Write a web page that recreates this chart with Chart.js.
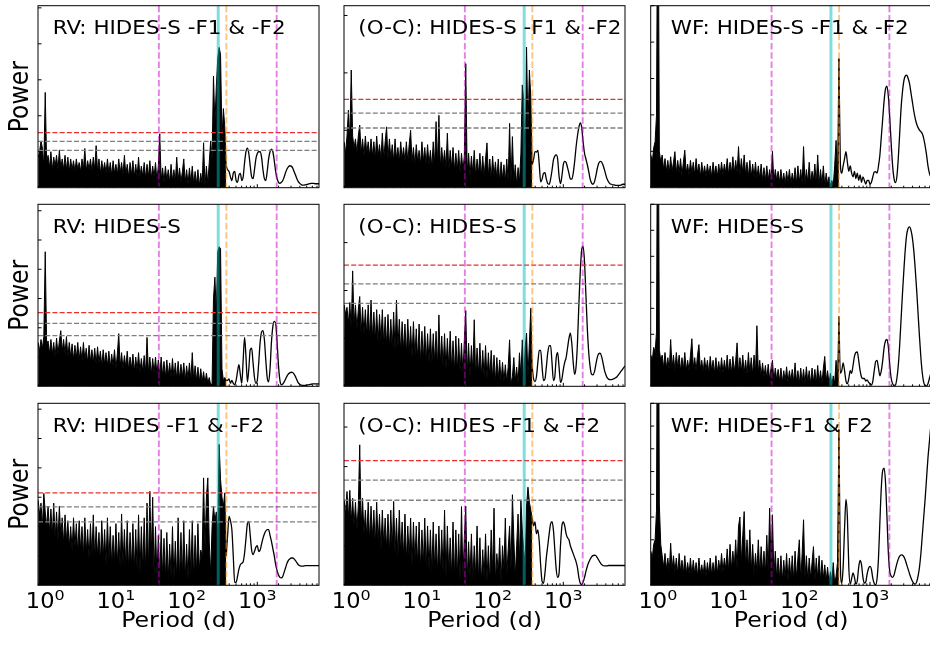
<!DOCTYPE html>
<html lang="en">
<head>
<meta charset="UTF-8">
<title>GLS periodograms: RV, (O-C) and window function</title>
<style>
  body { margin: 0; background: #fff; }
  #wrap { position: relative; width: 930px; height: 646px; overflow: hidden; background: #fff; }
  #wrap canvas { position: absolute; left: 0; top: 0; }
</style>
</head>
<body>
<div id="wrap"></div>
<script src="https://cdn.jsdelivr.net/npm/chart.js"></script>
<script>
// log10(period / d) sampling of the periodograms
const denseLogP = [
  -0.10,-0.08,-0.06,-0.04,-0.02,0.00,0.02,0.04,0.06,0.08,
  0.10,0.12,0.14,0.16,0.18,0.20,0.22,0.24,0.26,0.28,
  0.30,0.32,0.34,0.36,0.38,0.40,0.42,0.44,0.46,0.48,
  0.50,0.52,0.54,0.56,0.58,0.60,0.62,0.64,0.66,0.68,
  0.70,0.72,0.74,0.76,0.78,0.80,0.82,0.84,0.86,0.88,
  0.90,0.92,0.94,0.96,0.98,1.00,1.02,1.04,1.06,1.08,
  1.10,1.12,1.14,1.16,1.18,1.20,1.22,1.24,1.26,1.28,
  1.30,1.32,1.34,1.36,1.38,1.40,1.42,1.44,1.46,1.48,
  1.50,1.52,1.54,1.56,1.58,1.60,1.62,1.64,1.66,1.68,
  1.70,1.72,1.74,1.76,1.78,1.80,1.82,1.84,1.86,1.88,
  1.90,1.92,1.94,1.96,1.98,2.00,2.02,2.04,2.06,2.08,
  2.10,2.12,2.14,2.16,2.18,2.20,2.22,2.24,2.26,2.28,
  2.30,2.32,2.34,2.36,2.38,2.40,2.42,2.44,2.46,2.48,
  2.50,2.52,2.54,2.56
];
const smoothLogP = [
  2.56,2.58,2.60,2.62,2.64,2.66,2.68,2.70,2.72,2.74,
  2.76,2.78,2.80,2.82,2.84,2.86,2.88,2.90,2.92,2.94,
  2.96,2.98,3.00,3.02,3.04,3.06,3.08,3.10,3.12,3.14,
  3.16,3.18,3.20,3.22,3.24,3.26,3.28,3.30,3.32,3.34,
  3.36,3.38,3.40,3.42,3.44,3.46,3.48,3.50,3.52,3.54,
  3.56,3.58,3.60,3.62,3.64,3.66,3.68,3.70,3.72,3.74,
  3.76,3.78,3.80,3.82,3.84,3.86,3.88
];

// RV: HIDES-S -F1 & -F2
const rvADense = [
  0.085,0.10,0.13,0.11,0.06,0.265,0.07,0.09,0.055,0.10,
  0.05,0.085,0.06,0.09,0.05,0.105,0.055,0.08,0.05,0.09,
  0.05,0.085,0.045,0.08,0.05,0.075,0.045,0.08,0.05,0.07,
  0.045,0.08,0.05,0.109,0.045,0.075,0.05,0.08,0.045,0.085,
  0.05,0.117,0.045,0.08,0.04,0.075,0.045,0.07,0.04,0.08,
  0.04,0.07,0.035,0.075,0.04,0.065,0.035,0.08,0.04,0.07,
  0.035,0.09,0.035,0.065,0.03,0.07,0.035,0.075,0.03,0.065,
  0.03,0.085,0.03,0.06,0.03,0.07,0.025,0.065,0.03,0.075,
  0.025,0.06,0.03,0.07,0.02,0.06,0.15,0.02,0.055,0.015,
  0.06,0.02,0.05,0.015,0.065,0.02,0.05,0.015,0.085,0.02,
  0.055,0.015,0.045,0.08,0.015,0.05,0.01,0.055,0.015,0.06,
  0.01,0.045,0.01,0.05,0.005,0.04,0.01,0.125,0.005,0.06,
  0.01,0.07,0.13,0.08,0.31,0.18,0.28,0.36,0.39,0.37,
  0.14,0.22,0.17,0.06
];
const rvASmooth = [
  0.06,0.05,0.045,0.03,0.02,0.04,0.045,0.02,0.015,0.035,
  0.04,0.02,0.03,0.07,0.10,0.11,0.095,0.06,0.03,0.025,
  0.05,0.08,0.095,0.10,0.10,0.085,0.05,0.025,0.02,0.045,
  0.08,0.10,0.107,0.10,0.075,0.045,0.025,0.015,0.012,0.015,
  0.02,0.03,0.042,0.052,0.058,0.061,0.06,0.055,0.045,0.035,
  0.025,0.017,0.012,0.009,0.007,0.007,0.008,0.009,0.01,0.011,
  0.012,0.012,0.012,0.011,0.011,0.011,0.011
];

// (O-C): HIDES-S -F1 & -F2
const ocADense = [
  0.08,0.06,0.09,0.135,0.08,0.205,0.09,0.07,0.085,0.06,
  0.09,0.109,0.06,0.085,0.055,0.09,0.06,0.08,0.055,0.085,
  0.055,0.08,0.05,0.09,0.055,0.075,0.05,0.095,0.05,0.08,
  0.106,0.05,0.085,0.05,0.075,0.045,0.085,0.05,0.07,0.045,
  0.08,0.05,0.07,0.045,0.08,0.045,0.075,0.10,0.045,0.07,
  0.04,0.075,0.045,0.065,0.04,0.08,0.045,0.07,0.04,0.075,
  0.04,0.065,0.035,0.08,0.04,0.115,0.04,0.126,0.035,0.07,
  0.04,0.065,0.035,0.095,0.03,0.065,0.035,0.07,0.03,0.06,
  0.03,0.065,0.025,0.06,0.03,0.055,0.216,0.025,0.06,0.02,
  0.055,0.025,0.065,0.02,0.05,0.025,0.06,0.02,0.055,0.02,
  0.05,0.078,0.02,0.05,0.015,0.055,0.02,0.045,0.015,0.05,
  0.01,0.045,0.015,0.04,0.01,0.05,0.01,0.112,0.01,0.089,
  0.01,0.04,0.005,0.035,0.01,0.06,0.179,0.153,0.03,0.245,
  0.10,0.205,0.158,0.04
];
const ocASmooth = [
  0.04,0.05,0.063,0.062,0.065,0.04,0.01,0.015,0.025,0.026,
  0.015,0.007,0.006,0.015,0.03,0.048,0.055,0.057,0.05,0.02,
  0.007,0.02,0.04,0.046,0.044,0.035,0.025,0.015,0.015,0.025,
  0.045,0.07,0.09,0.105,0.113,0.105,0.08,0.06,0.05,0.04,
  0.028,0.015,0.008,0.006,0.01,0.02,0.033,0.042,0.046,0.045,
  0.04,0.032,0.023,0.015,0.01,0.007,0.006,0.005,0.005,0.004,
  0.004,0.004,0.004,0.005,0.006,0.006,0.006
];

// WF: HIDES-S -F1 & -F2
const wfADense = [
  0.09,0.07,0.11,0.126,0.20,1.0,0.10,0.07,0.09,0.05,
  0.08,0.045,0.075,0.04,0.085,0.045,0.07,0.099,0.04,0.075,
  0.04,0.08,0.035,0.07,0.103,0.04,0.065,0.035,0.075,0.04,
  0.07,0.035,0.08,0.04,0.065,0.03,0.07,0.035,0.06,0.03,
  0.065,0.035,0.06,0.03,0.07,0.035,0.06,0.03,0.065,0.035,
  0.07,0.035,0.065,0.04,0.08,0.035,0.07,0.04,0.085,0.04,
  0.075,0.04,0.113,0.035,0.08,0.04,0.09,0.035,0.07,0.03,
  0.075,0.03,0.065,0.03,0.07,0.025,0.06,0.025,0.065,0.02,
  0.055,0.02,0.06,0.02,0.05,0.02,0.10,0.015,0.05,0.02,
  0.045,0.015,0.05,0.015,0.04,0.01,0.045,0.015,0.05,0.01,
  0.04,0.015,0.055,0.01,0.06,0.015,0.05,0.01,0.113,0.01,
  0.05,0.015,0.07,0.01,0.045,0.02,0.065,0.01,0.09,0.01,
  0.05,0.01,0.06,0.005,0.04,0.01,0.03,0.005,0.02,0.005,
  0.06,0.13,0.02,0.355
];
const wfASmooth = [
  0.355,0.07,0.04,0.06,0.08,0.099,0.07,0.045,0.06,0.04,
  0.03,0.045,0.025,0.04,0.02,0.035,0.015,0.03,0.02,0.01,
  0.02,0.02,0.01,0.015,0.03,0.043,0.044,0.04,0.06,0.09,
  0.14,0.19,0.24,0.272,0.279,0.25,0.19,0.12,0.06,0.025,
  0.014,0.03,0.08,0.15,0.22,0.265,0.295,0.307,0.309,0.30,
  0.285,0.26,0.235,0.21,0.19,0.175,0.165,0.158,0.154,0.148,
  0.135,0.115,0.09,0.06,0.04,0.03,0.025
];

// RV: HIDES-S
const rvBDense = [
  0.15,0.12,0.16,0.13,0.17,0.46,0.14,0.155,0.11,0.16,
  0.11,0.15,0.10,0.165,0.11,0.155,0.19,0.12,0.16,0.11,
  0.17,0.10,0.15,0.10,0.145,0.09,0.14,0.095,0.15,0.09,
  0.135,0.085,0.15,0.09,0.13,0.08,0.14,0.085,0.125,0.08,
  0.13,0.075,0.135,0.08,0.12,0.07,0.125,0.075,0.115,0.07,
  0.12,0.065,0.11,0.07,0.125,0.06,0.11,0.18,0.065,0.115,
  0.06,0.105,0.065,0.12,0.055,0.10,0.06,0.11,0.05,0.10,
  0.055,0.115,0.05,0.095,0.05,0.105,0.045,0.167,0.045,0.10,
  0.04,0.095,0.045,0.10,0.04,0.09,0.035,0.10,0.035,0.085,
  0.03,0.09,0.035,0.08,0.03,0.095,0.03,0.08,0.025,0.085,
  0.025,0.075,0.03,0.08,0.02,0.07,0.025,0.08,0.02,0.115,
  0.02,0.07,0.02,0.065,0.015,0.06,0.015,0.05,0.01,0.045,
  0.01,0.03,0.005,0.01,0.30,0.373,0.25,0.46,0.477,0.47,
  0.06,0.02,0.03,0.02
];
const rvBSmooth = [
  0.02,0.02,0.025,0.01,0.02,0.01,0.005,0.02,0.05,0.074,
  0.04,0.01,0.09,0.167,0.10,0.015,0.06,0.125,0.13,0.08,
  0.03,0.01,0.02,0.08,0.15,0.185,0.19,0.16,0.09,0.03,
  0.015,0.06,0.15,0.205,0.222,0.215,0.15,0.07,0.02,0.005,
  0.008,0.015,0.025,0.035,0.042,0.046,0.048,0.047,0.042,0.033,
  0.022,0.012,0.007,0.004,0.003,0.003,0.003,0.004,0.005,0.006,
  0.007,0.008,0.008,0.008,0.008,0.008,0.008
];

// (O-C): HIDES-S
const ocBDense = [
  0.17,0.15,0.165,0.13,0.175,0.12,0.241,0.13,0.17,0.12,
  0.16,0.1875,0.11,0.165,0.11,0.16,0.105,0.17,0.10,0.18,
  0.10,0.155,0.095,0.16,0.09,0.15,0.095,0.16,0.085,0.145,
  0.085,0.15,0.08,0.14,0.08,0.155,0.075,0.18,0.08,0.14,
  0.07,0.135,0.075,0.13,0.065,0.14,0.07,0.125,0.06,0.135,
  0.06,0.12,0.055,0.13,0.05,0.115,0.055,0.125,0.05,0.11,
  0.05,0.12,0.045,0.11,0.05,0.115,0.04,0.149,0.045,0.105,
  0.04,0.11,0.035,0.10,0.04,0.115,0.035,0.095,0.03,0.105,
  0.03,0.10,0.03,0.09,0.025,0.095,0.158,0.025,0.09,0.02,
  0.085,0.03,0.139,0.02,0.08,0.025,0.09,0.02,0.075,0.02,
  0.085,0.015,0.07,0.02,0.075,0.015,0.065,0.01,0.06,0.015,
  0.055,0.01,0.05,0.01,0.045,0.008,0.04,0.097,0.005,0.02,
  0.06,0.01,0.04,0.005,0.07,0.02,0.097,0.01,0.08,0.111,
  0.02,0.09,0.163,0.04
];
const ocBSmooth = [
  0.04,0.015,0.01,0.02,0.05,0.075,0.075,0.04,0.012,0.015,
  0.04,0.07,0.085,0.085,0.05,0.012,0.02,0.06,0.07,0.04,
  0.008,0.015,0.035,0.05,0.06,0.08,0.10,0.111,0.09,0.05,
  0.025,0.04,0.09,0.17,0.24,0.285,0.292,0.26,0.19,0.12,
  0.07,0.04,0.025,0.024,0.03,0.045,0.06,0.068,0.069,0.063,
  0.05,0.035,0.025,0.018,0.015,0.014,0.014,0.015,0.016,0.018,
  0.02,0.024,0.028,0.032,0.036,0.04,0.043
];

// WF: HIDES-S
const wfBDense = [
  0.12,0.10,0.15,0.13,0.21,1.5,0.14,0.10,0.12,0.07,
  0.13,0.07,0.11,0.06,0.18,0.07,0.12,0.06,0.13,0.07,
  0.12,0.06,0.11,0.065,0.13,0.06,0.10,0.06,0.12,0.183,
  0.07,0.11,0.06,0.12,0.16,0.065,0.10,0.055,0.11,0.06,
  0.10,0.05,0.115,0.06,0.10,0.05,0.11,0.055,0.095,0.05,
  0.11,0.05,0.10,0.055,0.12,0.05,0.105,0.05,0.115,0.055,
  0.10,0.167,0.05,0.11,0.055,0.12,0.05,0.10,0.045,0.13,
  0.05,0.11,0.045,0.12,0.05,0.233,0.05,0.10,0.04,0.09,
  0.035,0.08,0.03,0.085,0.025,0.07,0.10,0.02,0.07,0.025,
  0.065,0.02,0.07,0.015,0.06,0.02,0.075,0.015,0.06,0.02,
  0.065,0.015,0.09,0.015,0.06,0.01,0.07,0.015,0.065,0.01,
  0.075,0.015,0.06,0.01,0.07,0.015,0.065,0.01,0.08,0.015,
  0.06,0.01,0.07,0.115,0.02,0.06,0.01,0.05,0.005,0.04,
  0.01,0.10,0.02,0.269
];
const wfBSmooth = [
  0.269,0.05,0.06,0.09,0.06,0.02,0.01,0.03,0.06,0.05,
  0.08,0.115,0.13,0.132,0.10,0.06,0.035,0.03,0.03,0.02,
  0.025,0.015,0.01,0.005,0.02,0.06,0.095,0.10,0.07,0.04,
  0.06,0.10,0.15,0.175,0.18,0.15,0.08,0.03,0.01,0.003,
  0.005,0.03,0.08,0.16,0.26,0.36,0.45,0.53,0.585,0.608,
  0.613,0.60,0.57,0.52,0.45,0.37,0.28,0.19,0.11,0.05,
  0.015,0.003,0.002,0.01,0.03,0.05,0.07
];

// RV: HIDES -F1 & -F2
const rvCDense = [
  0.29,0.24,0.28,0.20,0.313,0.25,0.20,0.27,0.18,0.26,
  0.17,0.28,0.16,0.25,0.15,0.27,0.17,0.23,0.14,0.24,
  0.15,0.22,0.13,0.20,0.12,0.23,0.13,0.21,0.11,0.22,
  0.12,0.20,0.10,0.23,0.11,0.19,0.09,0.21,0.10,0.24,
  0.09,0.20,0.10,0.18,0.08,0.22,0.09,0.19,0.07,0.23,
  0.08,0.20,0.07,0.17,0.08,0.21,0.07,0.18,0.06,0.243,
  0.07,0.19,0.06,0.22,0.05,0.18,0.06,0.21,0.05,0.19,
  0.05,0.24,0.04,0.20,0.05,0.23,0.04,0.28,0.05,0.32,
  0.10,0.30,0.03,0.20,0.03,0.17,0.02,0.19,0.03,0.16,
  0.02,0.18,0.02,0.14,0.03,0.20,0.02,0.15,0.02,0.23,
  0.02,0.18,0.03,0.22,0.02,0.14,0.02,0.19,0.03,0.22,
  0.02,0.17,0.04,0.21,0.05,0.12,0.10,0.366,0.12,0.30,
  0.366,0.15,0.036,0.20,0.27,0.22,0.25,0.167,0.48,0.36,
  0.30,0.27,0.315,0.10
];
const rvCSmooth = [
  0.10,0.17,0.235,0.22,0.19,0.10,0.01,0.01,0.03,0.055,
  0.07,0.075,0.08,0.11,0.16,0.21,0.218,0.17,0.12,0.105,
  0.115,0.13,0.135,0.115,0.12,0.14,0.16,0.175,0.185,0.19,
  0.19,0.17,0.15,0.125,0.10,0.07,0.05,0.035,0.027,0.025,
  0.03,0.045,0.06,0.075,0.085,0.09,0.093,0.093,0.09,0.084,
  0.077,0.07,0.067,0.065,0.065,0.066,0.067,0.067,0.067,0.067,
  0.067,0.067,0.067,0.067,0.067,0.067,0.067
];

// (O-C): HIDES -F1 & -F2
const ocCDense = [
  0.216,0.18,0.237,0.17,0.24,0.16,0.22,0.15,0.21,0.14,
  0.20,0.355,0.15,0.22,0.13,0.19,0.12,0.21,0.11,0.20,
  0.12,0.19,0.10,0.21,0.11,0.18,0.09,0.19,0.10,0.17,
  0.09,0.18,0.08,0.19,0.09,0.212,0.08,0.17,0.07,0.19,
  0.08,0.16,0.07,0.18,0.06,0.15,0.07,0.17,0.05,0.16,
  0.06,0.15,0.05,0.16,0.04,0.14,0.05,0.17,0.04,0.15,
  0.04,0.14,0.03,0.16,0.04,0.13,0.03,0.15,0.03,0.14,
  0.03,0.19,0.02,0.15,0.03,0.12,0.02,0.16,0.02,0.14,
  0.02,0.13,0.01,0.199,0.02,0.12,0.20,0.01,0.11,0.02,
  0.13,0.01,0.10,0.02,0.15,0.01,0.12,0.005,0.09,0.02,
  0.13,0.01,0.10,0.005,0.14,0.03,0.195,0.01,0.08,0.03,
  0.12,0.005,0.10,0.04,0.17,0.02,0.09,0.15,0.04,0.229,
  0.12,0.02,0.10,0.18,0.06,0.216,0.14,0.09,0.052,0.20,
  0.248,0.21,0.19,0.17
];
const ocCSmooth = [
  0.17,0.15,0.16,0.13,0.14,0.11,0.05,0.01,0.005,0.03,
  0.07,0.10,0.13,0.155,0.161,0.14,0.09,0.04,0.02,0.03,
  0.10,0.15,0.16,0.15,0.13,0.12,0.115,0.10,0.09,0.08,
  0.07,0.06,0.045,0.02,0.005,0.002,0.008,0.02,0.035,0.048,
  0.058,0.066,0.072,0.075,0.076,0.075,0.07,0.064,0.058,0.053,
  0.05,0.049,0.049,0.049,0.05,0.05,0.05,0.05,0.05,0.05,
  0.05,0.05,0.05,0.05,0.05,0.05,0.05
];

// WF: HIDES-F1 & F2
const wfCDense = [
  0.15,0.12,0.18,0.20,0.33,2.0,0.353,0.18,0.13,0.08,
  0.14,0.07,0.12,0.06,0.185,0.07,0.13,0.06,0.12,0.05,
  0.14,0.06,0.11,0.05,0.13,0.05,0.10,0.05,0.12,0.045,
  0.11,0.05,0.10,0.04,0.12,0.05,0.09,0.045,0.11,0.04,
  0.10,0.05,0.12,0.045,0.10,0.05,0.13,0.05,0.11,0.06,
  0.14,0.06,0.12,0.07,0.16,0.06,0.18,0.07,0.15,0.08,
  0.20,0.07,0.26,0.30,0.10,0.22,0.324,0.08,0.20,0.07,
  0.244,0.06,0.18,0.05,0.14,0.06,0.20,0.05,0.17,0.06,
  0.15,0.05,0.22,0.06,0.339,0.10,0.31,0.04,0.15,0.03,
  0.12,0.03,0.13,0.02,0.11,0.03,0.14,0.02,0.12,0.03,
  0.13,0.02,0.15,0.03,0.12,0.20,0.02,0.14,0.288,0.03,
  0.13,0.02,0.12,0.03,0.10,0.17,0.02,0.12,0.03,0.13,
  0.02,0.11,0.03,0.09,0.02,0.08,0.01,0.06,0.02,0.10,
  0.01,0.04,0.10,0.685
];
const wfCSmooth = [
  0.685,0.10,0.01,0.08,0.25,0.378,0.30,0.08,0.005,0.03,
  0.054,0.035,0.005,0.02,0.08,0.109,0.09,0.035,0.01,0.015,
  0.05,0.075,0.083,0.07,0.03,0.008,0.003,0.03,0.12,0.28,
  0.43,0.505,0.515,0.45,0.30,0.14,0.06,0.04,0.035,0.045,
  0.07,0.095,0.115,0.128,0.134,0.133,0.125,0.11,0.09,0.07,
  0.05,0.032,0.018,0.008,0.005,0.015,0.04,0.08,0.14,0.22,
  0.30,0.38,0.47,0.56,0.63,0.70,0.77
];

// panels in reading order (row by row)
const titles = [
  'RV: HIDES-S -F1 & -F2', '(O-C): HIDES-S -F1 & -F2', 'WF: HIDES-S -F1 & -F2',
  'RV: HIDES-S', '(O-C): HIDES-S', 'WF: HIDES-S',
  'RV: HIDES -F1 & -F2', '(O-C): HIDES -F1 & -F2', 'WF: HIDES-F1 & F2'
];
const denseSeries = [rvADense, ocADense, wfADense, rvBDense, ocBDense, wfBDense, rvCDense, ocCDense, wfCDense];
const smoothSeries = [rvASmooth, ocASmooth, wfASmooth, rvBSmooth, ocBSmooth, wfBSmooth, rvCSmooth, ocCSmooth, wfCSmooth];
const powerMax = [0.506, 0.317, 0.50, 0.622, 0.38, 0.70, 0.62, 0.46, 0.80];
// false-alarm levels: 0.1 %, 1 %, 10 %
const fapLevels = [
  [0.153, 0.129, 0.104], [0.154, 0.130, 0.104], null,
  [0.252, 0.215, 0.173], [0.253, 0.214, 0.173], null,
  [0.315, 0.267, 0.216], [0.315, 0.266, 0.215], null
];
const magentaPeriods = [40.5, 1880];
const cyanPeriod = 280;
const orangePeriod = 365;
const periodMin = 0.79, periodMax = 7460;

// geometry
const colLeft = [38, 344, 650.7];
const rowTop = [5.7, 204.3, 403.3];
const plotW = 281, plotH = 182;
const titleX = [52.7, 358.3, 670.7];
const CW = 940, CH = 646;
const SX = 1.1; // glyphs in the figure are a bit wider than tall
const FONT = '"DejaVu Sans"';

function drawText(ctx, txt, x, y, size, align, rotate) {
  ctx.save();
  ctx.translate(x, y);
  ctx.scale(SX, 1);
  if (rotate) ctx.rotate(-Math.PI / 2);
  ctx.font = size + 'px ' + FONT;
  ctx.textAlign = align;
  ctx.textBaseline = 'alphabetic';
  ctx.fillStyle = '#000';
  ctx.fillText(txt, 0, 0);
  ctx.restore();
}

function drawPow10(ctx, x, y, exp) {
  ctx.save();
  ctx.font = '20.5px ' + FONT;
  const wb = ctx.measureText('10').width;
  ctx.font = '14.5px ' + FONT;
  const we = ctx.measureText(String(exp)).width;
  ctx.translate(x - (wb + we) * SX / 2, y);
  ctx.scale(SX, 1);
  ctx.fillStyle = '#000';
  ctx.textAlign = 'left';
  ctx.textBaseline = 'alphabetic';
  ctx.font = '20.5px ' + FONT;
  ctx.fillText('10', 0, 0);
  ctx.font = '14.5px ' + FONT;
  ctx.fillText(String(exp), wb, -7.6);
  ctx.restore();
}

const panelDecor = {
  id: 'panelDecor',
  afterDraw(chart, args, opts) {
    const k = opts.panel, row = Math.floor(k / 3), col = k % 3;
    const ctx = chart.ctx, a = chart.chartArea;
    const xs = chart.scales.x, ys = chart.scales.y;

    ctx.save();
    ctx.beginPath();
    ctx.rect(a.left, a.top, a.right - a.left, a.bottom - a.top);
    ctx.clip();
    // false alarm levels
    if (fapLevels[k]) {
      ctx.lineWidth = 1.3;
      ctx.setLineDash([5, 2.2]);
      fapLevels[k].forEach((v, i) => {
        const y = ys.getPixelForValue(v);
        ctx.strokeStyle = i === 0 ? '#e8312f' : '#7f7f7f';
        ctx.beginPath(); ctx.moveTo(a.left, y); ctx.lineTo(a.right, y); ctx.stroke();
      });
    }
    // period markers
    const vline = (p, color, width, dash) => {
      const x = xs.getPixelForValue(p);
      ctx.strokeStyle = color; ctx.lineWidth = width; ctx.setLineDash(dash);
      ctx.beginPath(); ctx.moveTo(x, a.top); ctx.lineTo(x, a.bottom); ctx.stroke();
    };
    magentaPeriods.forEach(p => vline(p, 'rgba(204,0,204,0.5)', 1.9, [6.5, 2.8]));
    vline(cyanPeriod, 'rgba(0,192,192,0.5)', 3, []);
    vline(orangePeriod, 'rgba(255,140,0,0.5)', 1.9, [6.5, 2.8]);
    ctx.restore();

    // frame
    ctx.save();
    ctx.strokeStyle = '#000';
    ctx.lineWidth = 1;
    ctx.strokeRect(a.left, a.top, a.right - a.left, a.bottom - a.top);
    // y ticks, pointing in
    for (let t = 1; t * 0.1 <= powerMax[k] + 1e-6; t++) {
      const y = ys.getPixelForValue(t * 0.1);
      ctx.beginPath(); ctx.moveTo(a.left, y); ctx.lineTo(a.left + 3.5, y); ctx.stroke();
    }
    // x ticks, pointing in
    [0.1, 1, 10, 100, 1000].forEach(d => {
      for (let m = 1; m <= 9; m++) {
        const p = d * m;
        if (p < periodMin || p > periodMax) continue;
        const x = xs.getPixelForValue(p);
        const len = m === 1 ? 3.5 : 2;
        ctx.beginPath(); ctx.moveTo(x, a.bottom); ctx.lineTo(x, a.bottom - len); ctx.stroke();
      }
    });
    ctx.restore();

    drawText(ctx, titles[k], titleX[col], a.top + 28.5, 19.5, 'left', false);
    if (col === 0) drawText(ctx, 'Power', 28.3, (a.top + a.bottom) / 2, 23.5, 'center', true);
    if (row === 2) {
      [1, 10, 100, 1000].forEach((p, e) => drawPow10(ctx, xs.getPixelForValue(p), a.bottom + 22.6, e));
      drawText(ctx, 'Period (d)', (a.left + a.right) / 2, a.bottom + 41.8, 21.5, 'center', false);
    }
  }
};

const wrap = document.getElementById('wrap');
for (let k = 0; k < 9; k++) {
  const row = Math.floor(k / 3), col = k % 3;
  const cv = document.createElement('canvas');
  cv.width = CW; cv.height = CH;
  cv.style.width = CW + 'px'; cv.style.height = CH + 'px';
  wrap.appendChild(cv);
  const left = colLeft[col], top = rowTop[row];
  new Chart(cv.getContext('2d'), {
    type: 'line',
    data: {
      datasets: [
        {
          data: denseLogP.map((l, i) => ({ x: Math.pow(10, l), y: denseSeries[k][i] })),
          borderColor: '#000', backgroundColor: '#000', borderWidth: 1,
          fill: 'origin', pointRadius: 0, tension: 0
        },
        {
          data: smoothLogP.map((l, i) => ({ x: Math.pow(10, l), y: smoothSeries[k][i] })),
          borderColor: '#000', borderWidth: 1.3, fill: false, pointRadius: 0,
          cubicInterpolationMode: 'monotone'
        }
      ]
    },
    options: {
      responsive: false,
      animation: false,
      devicePixelRatio: 1,
      events: [],
      layout: { padding: { left: left, top: top, right: CW - left - plotW, bottom: CH - top - plotH } },
      scales: {
        x: { type: 'logarithmic', min: periodMin, max: periodMax, display: false },
        y: { type: 'linear', min: 0, max: powerMax[k], display: false }
      },
      plugins: {
        legend: { display: false },
        tooltip: { enabled: false },
        panelDecor: { panel: k }
      }
    },
    plugins: [panelDecor]
  });
}
</script>
</body>
</html>
